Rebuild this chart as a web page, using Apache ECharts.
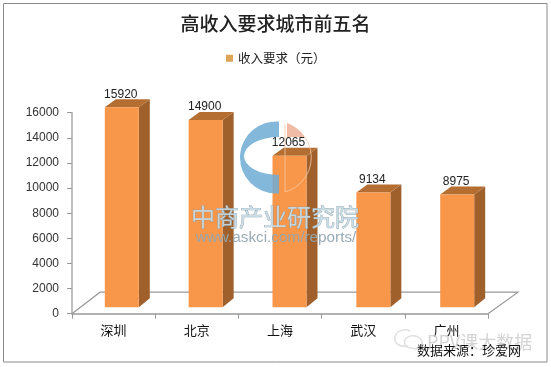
<!DOCTYPE html>
<html>
<head>
<meta charset="utf-8">
<style>html,body{margin:0;padding:0;background:#fff}#c{width:551px;height:367px}</style>
<script src="https://cdn.jsdelivr.net/npm/echarts@6/dist/echarts.min.js"></script>
</head>
<body>
<div id="c"></div>
<script>
const categories = ['深圳', '北京', '上海', '武汉', '广州'];
const values = [15920, 14900, 12065, 9134, 8975];
const seriesName = '收入要求（元）';
const titleText = '高收入要求城市前五名';
const sourceText = '数据来源：珍爱网';
const yMax = 16000;
const yStep = 2000;

const CJK = '"Noto Sans CJK SC","Liberation Sans",sans-serif';
const LAT = '"Liberation Sans",sans-serif';

function barGeom(api, idx, v) {
  const top = api.coord([idx, v]);
  const base = api.coord([idx, 0]);
  const shiftX = 8.2 + 0.65 * idx;
  const w = 34, lift = 6.5;
  const x0 = top[0] + shiftX - w / 2;
  return {x0, x1: x0 + w, yT: top[1] - lift, yB: base[1] - lift};
}

const chart = echarts.init(document.getElementById('c'), null, {renderer: 'canvas'});
chart.setOption({
  animation: false,
  backgroundColor: '#fff',
  title: {
    text: titleText, left: 'center', top: 14, padding: 0,
    textStyle: {fontFamily: CJK, fontSize: 19, fontWeight: 500, color: '#222'}
  },
  legend: {
    data: [{name: seriesName, icon: 'rect', itemStyle: {color: '#DDA45A'}}],
    left: 226, top: 52, padding: 0, itemWidth: 7, itemHeight: 7,
    textStyle: {fontFamily: CJK, fontSize: 12.5, color: '#222'}
  },
  grid: {left: 72, right: 63, top: 112.7, bottom: 53.3},
  xAxis: {
    type: 'category', data: categories, boundaryGap: true,
    axisLine: {lineStyle: {color: '#999', width: 1.5}},
    axisTick: {show: true, length: 5, lineStyle: {color: '#999', width: 1}},
    axisLabel: {margin: 10, fontFamily: CJK, fontSize: 13, color: '#111'}
  },
  yAxis: {
    type: 'value', min: 0, max: yMax, interval: yStep,
    axisLine: {show: true, lineStyle: {color: '#aaa', width: 1.5}},
    axisTick: {show: true, length: 5, lineStyle: {color: '#999', width: 1}},
    splitLine: {show: false},
    axisLabel: {margin: 13, fontFamily: LAT, fontSize: 12, color: '#333', formatter: v => String(v)}
  },
  series: [
    {
      type: 'custom', z: 1, silent: true, data: [[0, 0]], encode: {x: 0, y: 1},
      renderItem(params, api) {
        const c = params.coordSys;
        const L = c.x, R = c.x + c.width, B = c.y + c.height;
        return {
          type: 'polyline',
          shape: {points: [[L, B], [L + 28, B - 21.5], [R + 30, B - 21.5], [R, B]]},
          style: {fill: 'none', stroke: '#999', lineWidth: 1.2}
        };
      }
    },
    {
      name: seriesName, type: 'custom', z: 2, silent: true,
      data: values.map((v, i) => [i, v]), encode: {x: 0, y: 1},
      itemStyle: {color: '#DDA45A'},
      renderItem(params, api) {
        const i = api.value(0), g = barGeom(api, i, api.value(1));
        const dx = 11, dy = 8;
        return {
          type: 'group',
          children: [
            {type: 'polygon', shape: {points: [[g.x1, g.yT], [g.x1 + dx, g.yT - dy], [g.x1 + dx, g.yB - dy - 1], [g.x1, g.yB]]},
             style: {fill: '#A0602B'}},
            {type: 'polygon', shape: {points: [[g.x0, g.yT], [g.x0 + dx, g.yT - dy], [g.x1 + dx, g.yT - dy], [g.x1, g.yT]]},
             style: {fill: '#B46E31'}},
            {type: 'rect', shape: {x: g.x0, y: g.yT, width: g.x1 - g.x0, height: g.yB - g.yT},
             style: {fill: '#F8964A'}}
          ]
        };
      }
    },
    {
      type: 'custom', z: 5, silent: true, data: [[0, 0]], encode: {x: 0, y: 1},
      renderItem() {
        return {
          type: 'group',
          children: [
            {type: 'path', shape: {pathData: 'M279 121.6 A36 36 0 0 0 240 157.5 A36 36 0 0 0 279 193.4 L279 175 A35 19 0 0 1 244 156 A35 19 0 0 1 279 137 Z'},
             style: {fill: '#6FABD3', opacity: 0.85}},
            {type: 'path', shape: {pathData: 'M287 123 A36 36 0 0 1 305 137 L287 137 Z'},
             style: {fill: '#EDB095', opacity: 0.85}},
            {type: 'path', shape: {pathData: 'M285 124 L285 192 M305 137 A36 36 0 0 1 285 192'},
             style: {fill: 'none', stroke: '#F4C9A8', lineWidth: 1, opacity: 0.8}},
            {type: 'path', shape: {pathData: 'M408 346 C398 348 394 342 395 337 C396 331 404 328 410 331 M412 348 C404 348 402 340 408 337 C414 334 422 337 422 343 C422 347 418 350 412 348'},
             style: {fill: 'none', stroke: '#E0E0E0', lineWidth: 1.6}}
          ]
        };
      }
    },
    {
      type: 'custom', z: 8, silent: true,
      data: values.map((v, i) => [i, v]), encode: {x: 0, y: 1},
      renderItem(params, api) {
        const i = api.value(0), v = api.value(1), g = barGeom(api, i, v);
        return {
          type: 'text',
          style: {text: String(v), x: (g.x0 + g.x1) / 2 - 1, y: g.yT - 13, align: 'center', verticalAlign: 'middle',
                  fill: '#222', font: '12px ' + LAT}
        };
      }
    }
  ],
  graphic: {elements: [
    {type: 'rect', z: 0, silent: true, shape: {x: 3.5, y: 3.5, width: 543.5, height: 358.5},
     style: {fill: 'none', stroke: '#8a8a8a', lineWidth: 1}},
    {type: 'text', z: 6, silent: true,
     style: {text: '中商产业研究院', x: 275, y: 217, align: 'center', verticalAlign: 'middle',
             font: '24px ' + CJK, fill: '#C6DCE6', stroke: '#8398A2', lineWidth: 0.7, opacity: 0.9}},
    {type: 'text', z: 6, silent: true,
     style: {text: 'www.askci.com/reports/', x: 276, y: 237.5, align: 'center', verticalAlign: 'middle',
             font: '15.3px ' + LAT, fill: '#93A6B0', opacity: 0.95}},
    {type: 'text', z: 6, silent: true,
     style: {text: 'PPV课大数据', x: 427, y: 342, align: 'left', verticalAlign: 'middle',
             font: '18px ' + CJK, fill: '#D4D4D4'}},
    {type: 'text', z: 9, silent: true,
     style: {text: sourceText, x: 417, y: 350, align: 'left', verticalAlign: 'middle',
             font: '13px ' + CJK, fill: '#111'}}
  ]}
});
</script>
</body>
</html>
